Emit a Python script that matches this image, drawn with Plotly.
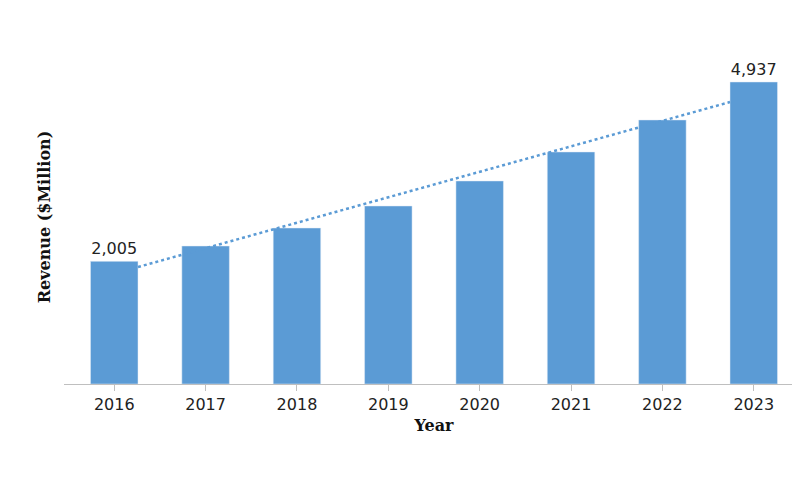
import plotly.graph_objects as go
import numpy as np

years = [2016, 2017, 2018, 2019, 2020, 2021, 2022, 2023]
revenue = [2005, 2256, 2550, 2910, 3319, 3793, 4316, 4937]
labels = ["2,005", "", "", "", "", "", "", "4,937"]

slope, intercept = np.polyfit(years, revenue, 1)
tx = [2016.26, 2022.74]
ty = [slope * x + intercept for x in tx]

fig = go.Figure()
fig.add_trace(go.Bar(x=years, y=revenue, width=0.52, marker_color="#5b9bd5",
                     text=labels, textposition="outside", cliponaxis=False,
                     textfont=dict(family="DejaVu Sans", size=16, color="#222")))
fig.add_trace(go.Scatter(x=tx, y=ty, mode="lines",
                         line=dict(color="#5b9bd5", width=2.5, dash="dot")))
fig.update_layout(
    width=800, height=500, showlegend=False,
    plot_bgcolor="white", paper_bgcolor="white",
    margin=dict(l=56, r=4, t=42, b=124),
    xaxis=dict(tickvals=years, ticktext=[str(y) for y in years], range=[2015.45, 2023.55],
               showline=True, linecolor="#bfbfbf", linewidth=1, ticks="outside",
               tickcolor="#bfbfbf", ticklen=6, showgrid=False,
               tickfont=dict(family="DejaVu Sans", size=16, color="#222"),
               title=dict(text="<b>Year</b>", font=dict(family="DejaVu Serif", size=16, color="#111"), standoff=6)),
    yaxis=dict(range=[0, 5460], showticklabels=False, showgrid=False, zeroline=False,
               title=dict(text="<b>Revenue ($Million)</b>", font=dict(family="DejaVu Serif", size=16, color="#111"), standoff=8)),
)
fig.write_html("out.html")
